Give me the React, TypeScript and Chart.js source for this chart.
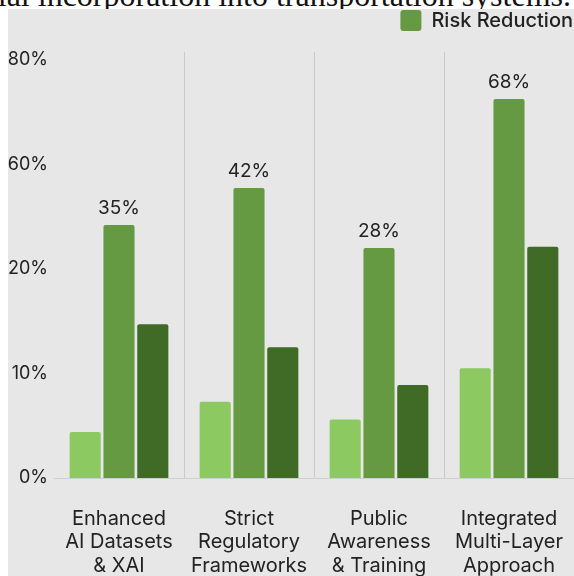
import React, { useEffect, useRef } from 'react';
import { Chart, registerables, LinearScale } from 'chart.js';

const CATEGORIES = [
  ['Enhanced', 'AI Datasets', '& XAI'],
  ['Strict', 'Regulatory', 'Frameworks'],
  ['Public', 'Awareness', '& Training'],
  ['Integrated', 'Multi-Layer', 'Approach'],
];
const SERIES_LIGHT = [4.4, 7.3, 5.6, 10.5];
const SERIES_RISK = [36.8, 51, 28, 72.5];
const SERIES_DARK = [14.7, 12.5, 8.9, 28.5];
const RISK_LABELS = [35, 42, 28, 68];
const TICK_VALUES = [0, 10, 20, 60, 80];
const AXIS_MAX = 81.5;

const COLOR_LIGHT = '#8cc960';
const COLOR_MID = '#669a42';
const COLOR_DARK = '#3f6b27';
const TEXT = '#222222';

class SegmentedScale extends LinearScale {
  static id = 'segmented';
  buildTicks() {
    return TICK_VALUES.filter((v) => v >= this.min && v <= this.max).map((v) => ({ value: v }));
  }
  _toPos(v: number) {
    const t = TICK_VALUES;
    const n = t.length - 1;
    if (v <= t[0]) return (v - t[0]) / (t[1] - t[0]);
    for (let i = 1; i <= n; i++) {
      if (v <= t[i]) return i - 1 + (v - t[i - 1]) / (t[i] - t[i - 1]);
    }
    return n + (v - t[n]) / (t[n] - t[n - 1]);
  }
  _fromPos(pos: number) {
    const t = TICK_VALUES;
    const n = t.length - 1;
    const i = Math.max(0, Math.min(n - 1, Math.floor(pos)));
    return t[i] + (pos - i) * (t[i + 1] - t[i]);
  }
  getPixelForValue(value: number) {
    const p0 = this._toPos(this.min);
    const p1 = this._toPos(this.max);
    return this.getPixelForDecimal((this._toPos(value) - p0) / (p1 - p0));
  }
  getValueForPixel(pixel: number) {
    const p0 = this._toPos(this.min);
    const p1 = this._toPos(this.max);
    return this._fromPos(p0 + this.getDecimalForPixel(pixel) * (p1 - p0));
  }
}

Chart.register(...registerables, SegmentedScale as any);

const legendHeightPlugin = {
  id: 'legendHeight',
  beforeUpdate(chart: any) {
    const lg = chart.legend;
    if (lg && !lg.__patched) {
      const orig = lg.fit;
      lg.fit = function () {
        orig.call(this);
        this.height = 43;
      };
      lg.__patched = true;
    }
  },
};

const barLabelPlugin = {
  id: 'barLabels',
  afterDatasetsDraw(chart: any) {
    const meta = chart.getDatasetMeta(1);
    const ctx = chart.ctx;
    ctx.save();
    ctx.font = '19px Inter';
    ctx.fillStyle = TEXT;
    ctx.textAlign = 'center';
    ctx.textBaseline = 'alphabetic';
    meta.data.forEach((bar: any, i: number) => {
      ctx.fillText(RISK_LABELS[i] + '%', bar.x, bar.y - 11);
    });
    ctx.restore();
  },
};

export default function App() {
  const ref = useRef<HTMLCanvasElement>(null);
  useEffect(() => {
    if (!ref.current) return;
    Chart.defaults.font.family = 'Inter';
    const chart = new Chart(ref.current, {
      type: 'bar',
      data: {
        labels: CATEGORIES,
        datasets: [
          { label: 'Baseline', data: SERIES_LIGHT, backgroundColor: COLOR_LIGHT, borderRadius: 2 },
          { label: 'Risk Reduction', data: SERIES_RISK, backgroundColor: COLOR_MID, borderRadius: 2 },
          { label: 'Sustained', data: SERIES_DARK, backgroundColor: COLOR_DARK, borderRadius: 2 },
        ],
      },
      options: {
        animation: false,
        responsive: true,
        maintainAspectRatio: false,
        datasets: { bar: { categoryPercentage: 0.78, barPercentage: 0.92 } },
        layout: { padding: 0 },
        plugins: {
          legend: {
            position: 'top',
            align: 'end',
            labels: {
              filter: (item: any) => item.text === 'Risk Reduction',
              boxWidth: 21,
              boxHeight: 21,
              padding: 1,
              useBorderRadius: true,
              borderRadius: 3,
              color: TEXT,
              font: { size: 20, weight: '500', family: 'Inter' },
            },
          },
          tooltip: { enabled: false },
        },
        scales: {
          x: {
            grid: {
              offset: true,
              drawTicks: false,
              color: (c: any) => (c.index === 0 || c.index === undefined ? 'rgba(0,0,0,0)' : '#c9c9c9'),
            },
            border: { display: true, color: '#cfcfcf', width: 1 },
            ticks: {
              color: TEXT,
              padding: 29,
              maxRotation: 0,
              autoSkip: false,
              font: { size: 20, family: 'Inter', lineHeight: 1.175 },
            },
            afterFit: (s: any) => {
              s.height = 98;
              s.paddingLeft = 0;
              s.paddingRight = 0;
            },
          },
          y: {
            type: 'segmented' as any,
            min: 0,
            max: AXIS_MAX,
            grid: { display: false, drawTicks: false },
            border: { display: false },
            ticks: {
              color: TEXT,
              padding: 6,
              font: { size: 18, family: 'Inter' },
              callback: (v: any) => v + '%',
            },
            afterFit: (s: any) => {
              s.width = 46;
            },
          },
        },
      },
      plugins: [legendHeightPlugin, barLabelPlugin],
    });
    return () => chart.destroy();
  }, []);

  return (
    <div style={{ position: 'absolute', left: 0, top: 0, width: 574, height: 576, overflow: 'hidden', background: '#ffffff' }}>
      <div
        style={{
          position: 'absolute',
          right: 3,
          top: -21,
          whiteSpace: 'nowrap',
          fontFamily: '"Liberation Serif", serif',
          fontSize: 32,
          lineHeight: '32px',
          color: '#111',
        }}
      >
        their potential incorporation into transportation systems.
      </div>
      <div style={{ position: 'absolute', left: 8, top: 9, width: 566, height: 567, background: '#e7e7e7' }}>
        <canvas ref={ref} />
      </div>
    </div>
  );
}
